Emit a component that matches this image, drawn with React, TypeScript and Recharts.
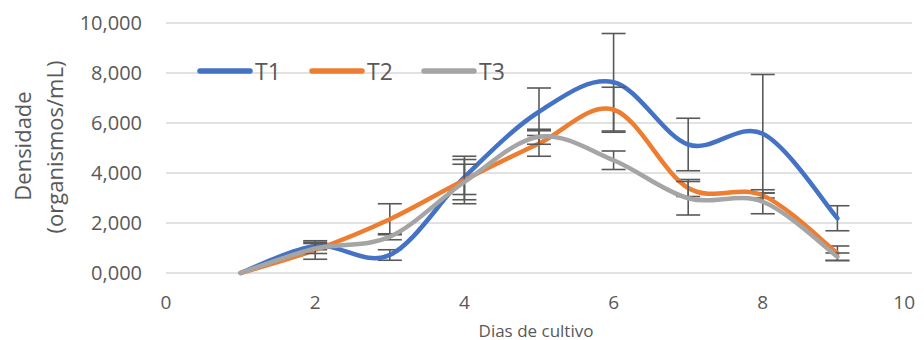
import React from "react";
import { LineChart, Line, XAxis, YAxis, CartesianGrid, ErrorBar, Legend } from "recharts";

const days = [1, 2, 3, 4, 5, 6, 7, 8, 9];
const t1Values = [0, 1.08, 0.72, 3.84, 6.45, 7.63, 5.14, 5.57, 2.19];
const t1Errors = [0, 0.15, 0.21, 0.7, 0.95, 1.95, 1.05, 2.37, 0.5];
const t2Values = [0, 0.92, 2.15, 3.72, 5.18, 6.53, 3.4, 3.1, 0.79];
const t2Errors = [0, 0.37, 0.62, 0.95, 0.51, 0.9, 0.34, 0.1, 0.29];
const t3Values = [0, 0.98, 1.45, 3.64, 5.45, 4.51, 2.99, 2.85, 0.65];
const t3Errors = [0, 0.2, 0.12, 0.71, 0.3, 0.37, 0.67, 0.48, 0.15];

const xTicks = [0, 2, 4, 6, 8, 10];
const yTicks = [0, 2, 4, 6, 8, 10];
const yTickLabels = ["0,000", "2,000", "4,000", "6,000", "8,000", "10,000"];

const seriesNames = ["T1", "T2", "T3"];
const seriesColors = ["#4472C4", "#ED7D31", "#A5A5A5"];

const data = days.map((d, i) => ({
  x: d,
  t1: t1Values[i],
  e1: t1Errors[i],
  t2: t2Values[i],
  e2: t2Errors[i],
  t3: t3Values[i],
  e3: t3Errors[i],
}));

// Excel-like smoothing (Catmull-Rom / cardinal tension 0 Bezier)
const excelCurve = (context: any) => {
  let pts: number[][] = [];
  let line = NaN;
  return {
    areaStart() { line = 0; },
    areaEnd() { line = NaN; },
    lineStart() { pts = []; },
    lineEnd() {
      const n = pts.length;
      if (n > 0) {
        context.moveTo(pts[0][0], pts[0][1]);
        if (n === 2) context.lineTo(pts[1][0], pts[1][1]);
        else {
          for (let i = 0; i < n - 1; i++) {
            const p0 = pts[Math.max(i - 1, 0)];
            const p1 = pts[i];
            const p2 = pts[i + 1];
            const p3 = pts[Math.min(i + 2, n - 1)];
            const c1x = p1[0] + (p2[0] - p0[0]) / 6;
            const c1y = p1[1] + (p2[1] - p0[1]) / 6;
            const c2x = p2[0] - (p3[0] - p1[0]) / 6;
            const c2y = p2[1] - (p3[1] - p1[1]) / 6;
            context.bezierCurveTo(c1x, c1y, c2x, c2y, p2[0], p2[1]);
          }
        }
      }
      if (line || (line !== 0 && n === 1)) context.closePath();
      line = 1 - line;
    },
    point(x: number, y: number) { pts.push([+x, +y]); },
  };
};

const FONT = "'Open Sans', 'Noto Sans', sans-serif";
const TEXT = "#595959";
const CHART_W = 908;

const renderLegend = () => (
  <div style={{ display: "flex", alignItems: "center", fontFamily: FONT }}>
    {seriesNames.map((name, i) => (
      <div key={name} style={{ display: "flex", alignItems: "center", width: 112 }}>
        <svg width={58} height={10}>
          <line x1={4} y1={5} x2={54} y2={5} stroke={seriesColors[i]} strokeWidth={5.5} strokeLinecap="round" />
        </svg>
        <span style={{ fontSize: 23, color: TEXT, marginLeft: 1, lineHeight: "26px" }}>{name}</span>
      </div>
    ))}
  </div>
);

const renderYTitle = () => (
  <g fill={TEXT} fontFamily={FONT} fontSize={22}>
    <text x={14} y={138} textAnchor="middle" dominantBaseline="central" transform="rotate(-90, 14, 138)">Densidade</text>
    <text x={46} y={139} textAnchor="middle" dominantBaseline="central" transform="rotate(-90, 46, 139)">(organismos/mL)</text>
  </g>
);

const renderXTitle = () => (
  <text x={528} y={322} textAnchor="middle" dominantBaseline="central" fill={TEXT} fontFamily={FONT} fontSize={17}>
    Dias de cultivo
  </text>
);

const XTick = (props: any) => {
  const { x, y, payload } = props;
  const label = String(payload.value);
  const half = label.length * 5.6;
  const overflow = x + half > CHART_W - 1;
  return (
    <text
      x={overflow ? CHART_W - 1 : x}
      y={y}
      dy="0.71em"
      textAnchor={overflow ? "end" : "middle"}
      fill={TEXT}
      fontFamily={FONT}
      fontSize={19}
    >
      {label}
    </text>
  );
};

export default function App() {
  return (
    <div style={{ width: CHART_W, height: 332 }}>
      <style>{`html { overflow: hidden; }`}</style>
      <LineChart
        width={CHART_W}
        height={332}
        data={data}
        margin={{ top: 15, right: 4, bottom: 7, left: 0 }}
      >
        <CartesianGrid vertical={false} stroke="#D9D9D9" strokeWidth={1.5} />
        <XAxis
          dataKey="x"
          type="number"
          domain={[0, 10]}
          ticks={xTicks}
          axisLine={false}
          tickLine={false}
          tickMargin={17}
          height={60}
          interval={0}
          tick={XTick}
          label={{ content: renderXTitle }}
        />
        <YAxis
          type="number"
          domain={[0, 10]}
          ticks={yTicks}
          width={158}
          axisLine={false}
          tickLine={false}
          tickMargin={18}
          interval={0}
          tickFormatter={(v: number) => yTickLabels[yTicks.indexOf(v)]}
          tick={{ fill: TEXT, fontSize: 20, fontFamily: FONT }}
          label={{ content: renderYTitle }}
        />
        <Legend
          content={renderLegend}
          layout="horizontal"
          verticalAlign="middle"
          align="center"
          wrapperStyle={{ position: "absolute", top: 50, left: 188, width: "auto" }}
        />
        {[["t1", "e1"], ["t2", "e2"], ["t3", "e3"]].map(([key, err], i) => (
          <Line
            key={key}
            dataKey={key}
            name={seriesNames[i]}
            type={excelCurve as any}
            stroke={seriesColors[i]}
            strokeWidth={4.5}
            strokeLinecap="round"
            dot={false}
            activeDot={false}
            isAnimationActive={false}
          >
            <ErrorBar dataKey={err} direction="y" width={12} stroke="#595959" strokeWidth={1.6} />
          </Line>
        ))}
      </LineChart>
    </div>
  );
}
